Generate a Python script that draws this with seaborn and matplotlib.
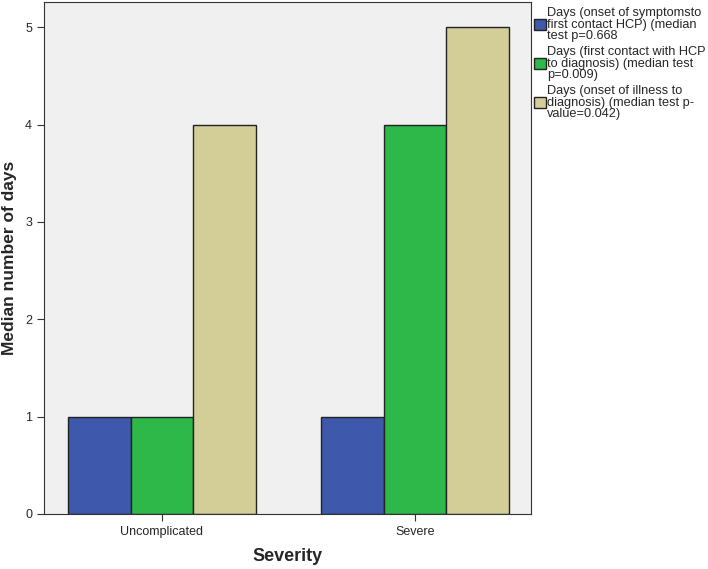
import matplotlib
matplotlib.use("Agg")
import matplotlib.pyplot as plt
import seaborn as sns
import pandas as pd

# values
severity = ["Uncomplicated", "Severe"]
series = [
    "Days (onset of symptomsto\nfirst contact HCP) (median\ntest p=0.668",
    "Days (first contact with HCP\nto diagnosis) (median test\np=0.009)",
    "Days (onset of illness to\ndiagnosis) (median test p-\nvalue=0.042)",
]
onset_to_contact = [1, 1]
contact_to_diag = [1, 4]
onset_to_diag = [4, 5]
colors = ["#3E58AC", "#2EB84A", "#D3CE97"]

rows = []
for s, vals in zip(series, [onset_to_contact, contact_to_diag, onset_to_diag]):
    for sev, v in zip(severity, vals):
        rows.append({"Severity": sev, "Series": s, "Days": v})
df = pd.DataFrame(rows)

sns.set_style("ticks")
plt.rcParams["font.family"] = ["Liberation Sans", "DejaVu Sans"]

fig = plt.figure(figsize=(7.08, 5.69), dpi=100)
ax = fig.add_axes([0.062, 0.0967, 0.688, 0.8998])
ax.set_facecolor("#F0F0F0")

sns.barplot(data=df, x="Severity", y="Days", hue="Series", order=severity,
            hue_order=series, palette=colors, width=0.74, edgecolor="#222222",
            linewidth=1, saturation=1, ax=ax)

ax.set_xlim(-0.466, 1.458)
ax.set_ylim(0, 5.26)
ax.set_yticks([0, 1, 2, 3, 4, 5])
ax.set_xlabel("Severity", fontsize=13, fontweight="bold")
ax.set_ylabel("Median number of days", fontsize=12.5, fontweight="bold")
ax.xaxis.set_label_coords(0.5, -0.066)
ax.yaxis.set_label_coords(-0.056, 0.5)
ax.tick_params(labelsize=9, length=5, color="#333333")
for sp in ax.spines.values():
    sp.set_color("#333333")

leg = ax.legend(loc="upper left", bbox_to_anchor=(1.006, 0.99), frameon=False, fontsize=9.2,
                handlelength=0.94, handleheight=0.94, handletextpad=0.1,
                labelspacing=0.3, borderaxespad=0, borderpad=0)
for t in leg.get_texts():
    t.set_linespacing(0.95)

fig.savefig("out.png", dpi=100)
